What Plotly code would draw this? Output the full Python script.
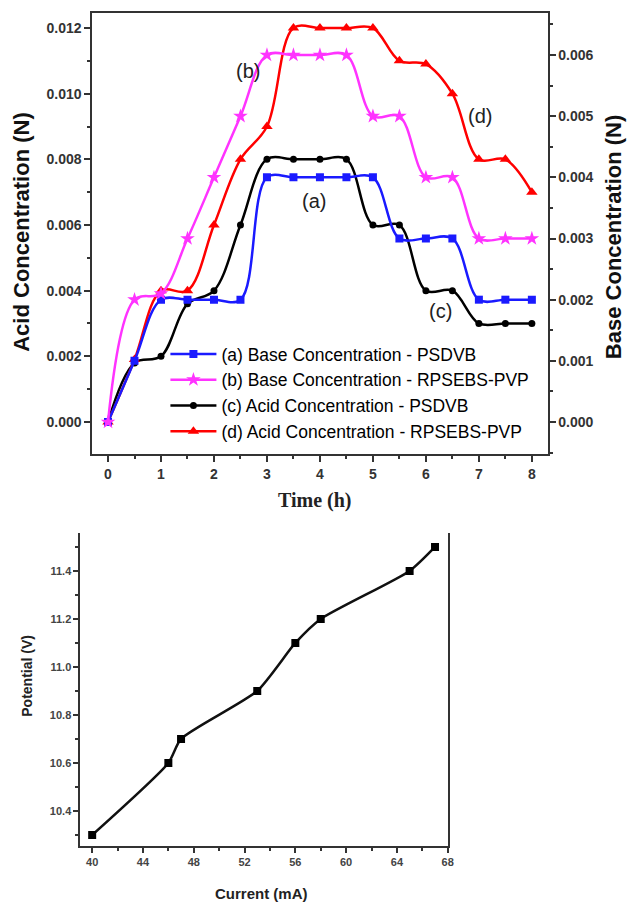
import plotly.graph_objects as go

W, H = 633, 904

# ---------------- data: top chart ----------------
time_h = [0, 0.5, 1, 1.5, 2, 2.5, 3, 3.5, 4, 4.5, 5, 5.5, 6, 6.5, 7, 7.5, 8]
base_psdvb = [0, 0.001, 0.002, 0.002, 0.002, 0.002, 0.004, 0.004, 0.004, 0.004,
              0.004, 0.003, 0.003, 0.003, 0.002, 0.002, 0.002]
base_rpsebs = [0, 0.002, 0.0021, 0.003, 0.004, 0.005, 0.006, 0.006, 0.006, 0.006,
               0.005, 0.005, 0.004, 0.004, 0.003, 0.003, 0.003]
acid_psdvb = [0, 0.0018, 0.002, 0.0036, 0.004, 0.006, 0.008, 0.008, 0.008, 0.008,
              0.006, 0.006, 0.004, 0.004, 0.003, 0.003, 0.003]
acid_rpsebs = [0, 0.0019, 0.004, 0.004, 0.006, 0.008, 0.009, 0.012, 0.012, 0.012,
               0.012, 0.011, 0.0109, 0.010, 0.008, 0.008, 0.007]

series_names = ["(a) Base Concentration - PSDVB",
                "(b) Base Concentration - RPSEBS-PVP",
                "(c) Acid Concentration - PSDVB",
                "(d) Acid Concentration - RPSEBS-PVP"]
x_ticks_top = [0, 1, 2, 3, 4, 5, 6, 7, 8]

# ---------------- data: bottom chart ----------------
current_mA = [40, 46, 47, 53, 56, 58, 65, 67]
potential_V = [10.3, 10.6, 10.7, 10.9, 11.1, 11.2, 11.4, 11.5]
x_ticks_bottom = [40, 44, 48, 52, 56, 60, 64, 68]


def px(x):
    return x / W


def py(y):
    return 1 - y / H


FONT = "Arial, Liberation Sans, sans-serif"
AX = "#333333"

fig = go.Figure()

styles = [
    dict(color="#1a1aff", symbol="square", size=8, yaxis="y2", data=base_psdvb),
    dict(color="#ff33ff", symbol="star", size=11, yaxis="y2", data=base_rpsebs),
    dict(color="#000000", symbol="circle", size=7, yaxis="y", data=acid_psdvb),
    dict(color="#ff0000", symbol="triangle-up", size=10, yaxis="y", data=acid_rpsebs),
]
for name, st, grp in zip(series_names, styles, "abcd"):
    fig.add_trace(go.Scatter(
        x=time_h, y=st["data"], name=name, mode="lines+markers",
        xaxis="x", yaxis=st["yaxis"], legendgroup=grp,
        line=dict(color=st["color"], width=2.5, shape="spline", smoothing=1.0),
        marker=dict(color=st["color"], symbol=st["symbol"], size=st["size"],
                    line=dict(width=0)),
    ))

fig.add_trace(go.Scatter(
    x=current_mA, y=potential_V, mode="lines+markers", showlegend=False,
    xaxis="x2", yaxis="y3",
    line=dict(color="#111111", width=2.5, shape="spline", smoothing=0.6),
    marker=dict(color="#000000", symbol="square", size=8),
))

tickfont_top = dict(family=FONT, size=14, color=AX, weight="bold")
tickfont_bot = dict(family=FONT, size=11, color="#444444", weight="bold")

common = dict(showgrid=False, zeroline=False, showline=True, linecolor=AX,
              linewidth=1.5, ticks="outside", ticklen=6, tickwidth=1.5,
              tickcolor=AX)

fig.update_layout(
    width=W, height=H,
    margin=dict(l=0, r=0, t=0, b=0),
    paper_bgcolor="white", plot_bgcolor="white",
    showlegend=True,
    legend=dict(x=px(167), y=py(336), xanchor="left", yanchor="top",
                bgcolor="rgba(0,0,0,0)", borderwidth=0, itemwidth=46,
                tracegroupgap=0,
                font=dict(family=FONT, size=17.5, color="#000000")),
    xaxis=dict(domain=[px(93), px(553)], anchor="y", range=[-0.3, 8.3],
               tickvals=x_ticks_top, mirror=True, tickfont=tickfont_top,
               minor=dict(dtick=0.5, tick0=0, ticks="outside", ticklen=3,
                          tickcolor=AX),
               **common),
    yaxis=dict(domain=[py(454), py(13)], anchor="x",
               range=[-0.000975, 0.012457], dtick=0.002, tick0=0,
               tickformat=".3f", tickfont=tickfont_top,
               minor=dict(dtick=0.001, tick0=0, ticks="outside", ticklen=3,
                          tickcolor=AX),
               **common),
    yaxis2=dict(overlaying="y", side="right", anchor="x",
                range=[-0.000523, 0.006687], dtick=0.001, tick0=0,
                tickformat=".3f", tickfont=tickfont_top,
                minor=dict(dtick=0.0005, tick0=0, ticks="outside", ticklen=3,
                           tickcolor=AX),
                **common),
    xaxis2=dict(domain=[px(81), px(452)], anchor="y3", range=[39.06, 68],
                tickvals=x_ticks_bottom, tickfont=tickfont_bot,
                minor=dict(dtick=2, tick0=40, ticks="outside", ticklen=3,
                           tickcolor=AX),
                **{**common, "ticklen": 5}),
    yaxis3=dict(domain=[py(846), py(533)], anchor="x2",
                range=[10.254, 11.558], dtick=0.2, tick0=10.4,
                tickformat=".1f", tickfont=tickfont_bot, mirror=True,
                minor=dict(dtick=0.1, tick0=10.3, ticks="outside", ticklen=3,
                           tickcolor=AX),
                **{**common, "ticklen": 5}),
)

annots = [
    dict(text="Acid Concentration (N)", x=px(22), y=py(232), textangle=-90,
         font=dict(family=FONT, size=22, color="#111111", weight="bold")),
    dict(text="Base Concentration (N)", x=px(619), y=py(237), textangle=-90,
         font=dict(family=FONT, size=22, color="#111111", weight="bold")),
    dict(text="Time (h)", x=px(318), y=py(500),
         font=dict(family="Liberation Serif, Times New Roman, serif", size=20,
                   color="#222222", weight="bold")),
    dict(text="(b)", x=px(250), y=py(71),
         font=dict(family=FONT, size=20, color="#222222")),
    dict(text="(a)", x=px(317), y=py(201),
         font=dict(family=FONT, size=20, color="#222222")),
    dict(text="(c)", x=px(445), y=py(311),
         font=dict(family=FONT, size=20, color="#222222")),
    dict(text="(d)", x=px(485), y=py(116),
         font=dict(family=FONT, size=20, color="#222222")),
    dict(text="Potential (V)", x=px(27), y=py(676), textangle=-90,
         font=dict(family=FONT, size=14, color="#222222", weight="bold")),
    dict(text="Current (mA)", x=px(264), y=py(893),
         font=dict(family=FONT, size=15, color="#222222", weight="bold")),
]
for a in annots:
    fig.add_annotation(xref="paper", yref="paper", showarrow=False,
                       xanchor="center", yanchor="middle", **a)

fig.write_html("out.html")
